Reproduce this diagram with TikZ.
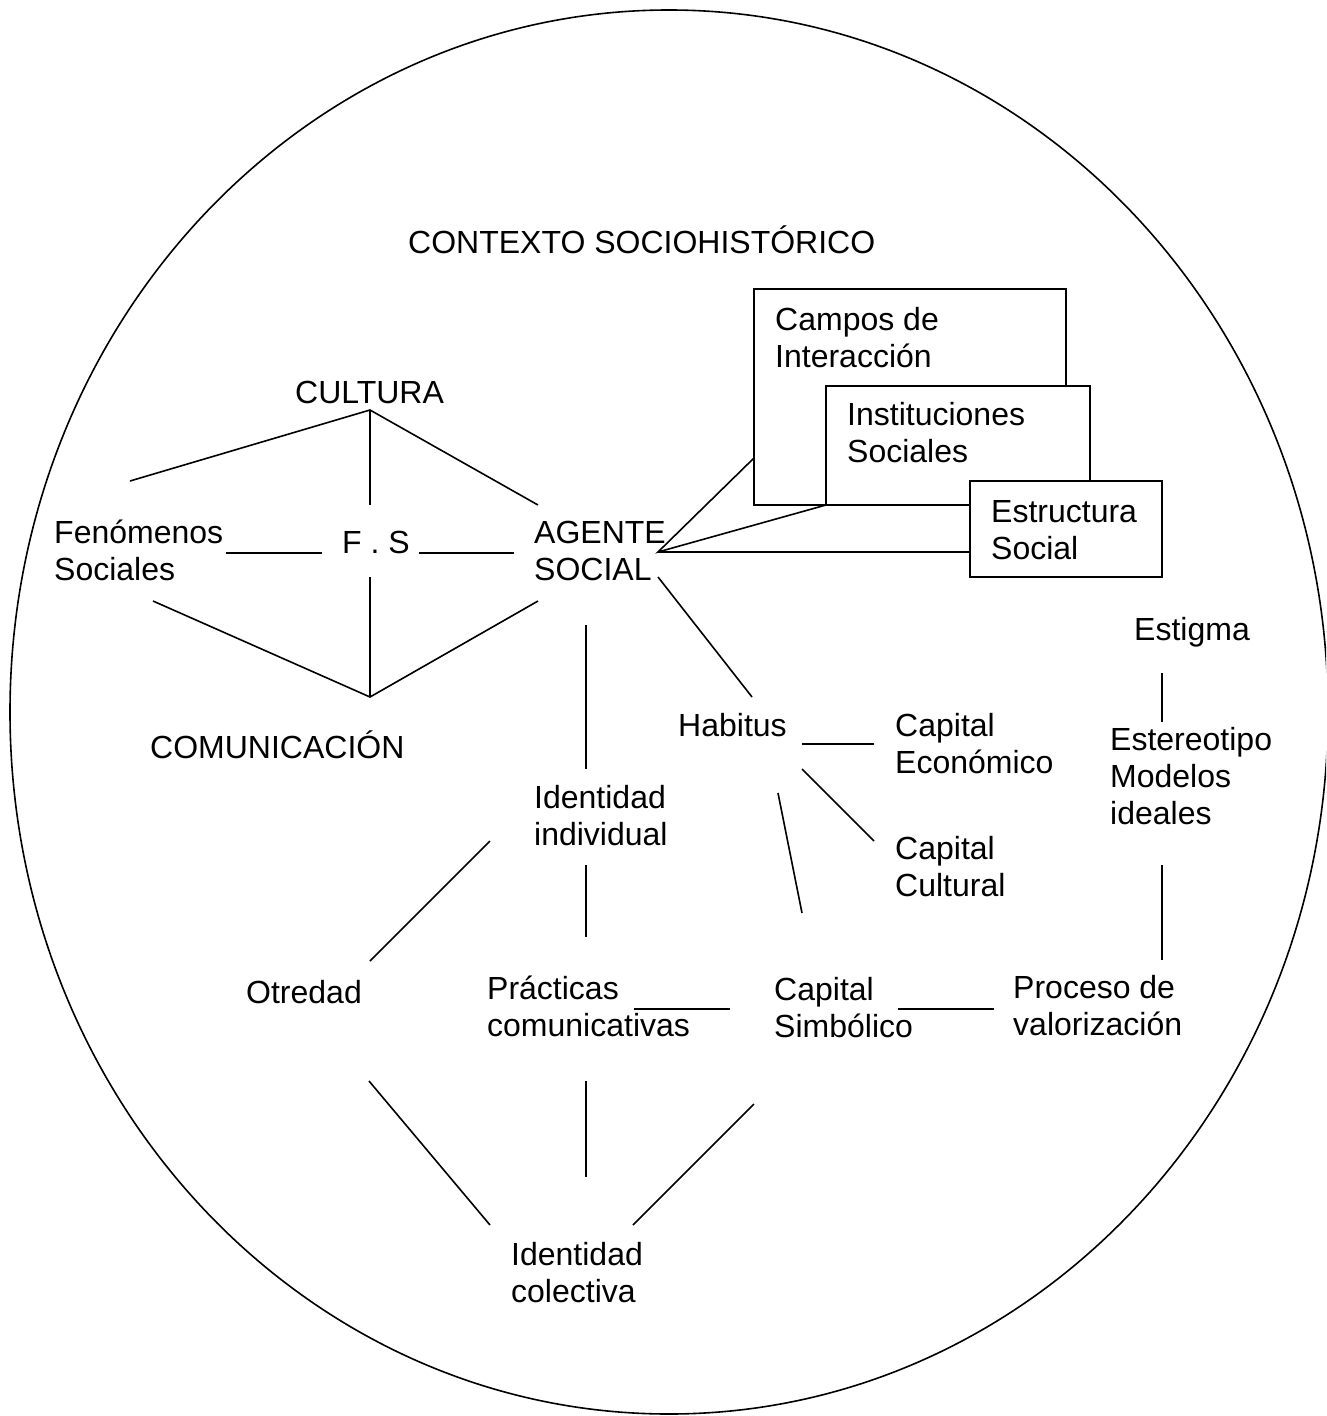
\documentclass[tikz,border=0pt]{standalone}
\usepackage{fontspec}
\setmainfont{Liberation Sans}
\begin{document}
\begin{tikzpicture}[x=1pt,y=-1pt,
    lbl/.style={anchor=base west, inner sep=0pt, align=left, font=\fontsize{32}{37}\selectfont},
    ln/.style={line width=1.6pt},
    bx/.style={draw, line width=1.6pt, fill=white}]
    \useasboundingbox (0,0) rectangle (1326,1416);
    \clip (0,0) rectangle (1326,1416);

    % Contexto
    \draw[ln] (669,712) ellipse [x radius=659pt, y radius=702pt];
    \node[lbl] (ctx) at (408,253) {CONTEXTO SOCIOHISTÓRICO};

    % F . S  (multi-line labels sit on their last baseline)
    \node[lbl] (cult) at (295,403) {CULTURA};
    \node[lbl] (fen) at (54,580) {Fenómenos\\Sociales};
    \node[lbl] (fs) at (342,553) {F . S};
    \node[lbl] (agente) at (534,580) {AGENTE\\SOCIAL};
    \node[lbl] (com) at (150,758) {COMUNICACIÓN};

    \coordinate (cu) at (370,410);
    \coordinate (cu-l) at (130,481);
    \coordinate (cu-b) at (370,505);
    \coordinate (cu-r) at (538,505);
    \draw[ln] (cu-l) -- (cu) -- (cu-r);
    \draw[ln] (cu) -- (cu-b);

    \coordinate (co) at (370,697);
    \coordinate (co-l) at (153,601);
    \coordinate (co-t) at (370,577);
    \coordinate (co-r) at (538,601);
    \draw[ln] (co-l) -- (co) -- (co-r);
    \draw[ln] (co) -- (co-t);

    \coordinate (fs-l1) at (226,553);
    \coordinate (fs-l2) at (322,553);
    \coordinate (fs-r1) at (419,553);
    \coordinate (fs-r2) at (514,553);
    \draw[ln] (fs-l1) -- (fs-l2);
    \draw[ln] (fs-r1) -- (fs-r2);

    % Campos, instituciones, estructura
    \coordinate (ag) at (658,552);
    \coordinate (ag-1) at (754,458);
    \coordinate (ag-2) at (826,505);
    \coordinate (ag-3) at (970,552);
    \draw[ln] (ag-1) -- (ag) -- (ag-2);
    \draw[ln] (ag) -- (ag-3);

    \draw[bx] (754,289) rectangle (1066,505);
    \node[lbl] (campos) at (775,367) {Campos de\\Interacción};
    \draw[bx] (826,386) rectangle (1090,505);
    \node[lbl] (inst) at (847,462) {Instituciones\\Sociales};
    \draw[bx] (970,481) rectangle (1162,577);
    \node[lbl] (estr) at (991,559) {Estructura\\Social};

    % Habitus y capitales
    \node[lbl] (habitus) at (678,736) {Habitus};
    \node[lbl] (capeco) at (895,773) {Capital\\Económico};
    \node[lbl] (capcul) at (895,896) {Capital\\Cultural};
    \node[lbl] (capsim) at (774,1037) {Capital\\Simbólico};

    \coordinate (ag-h1) at (658,577);
    \coordinate (ag-h2) at (752,697);
    \draw[ln] (ag-h1) -- (ag-h2);
    \coordinate (hb-e1) at (802,744);
    \coordinate (hb-e2) at (874,744);
    \draw[ln] (hb-e1) -- (hb-e2);
    \coordinate (hb-c1) at (802,769);
    \coordinate (hb-c2) at (874,841);
    \draw[ln] (hb-c1) -- (hb-c2);
    \coordinate (hb-s1) at (778,793);
    \coordinate (hb-s2) at (802,913);
    \draw[ln] (hb-s1) -- (hb-s2);

    % Identidad
    \node[lbl] (idind) at (534,845) {Identidad\\individual};
    \node[lbl] (otre) at (246,1003) {Otredad};
    \node[lbl] (pract) at (487,1036) {Prácticas\\comunicativas};
    \node[lbl] (idcol) at (511,1302) {Identidad\\colectiva};

    \coordinate (ag-i1) at (586,625);
    \coordinate (ag-i2) at (586,769);
    \draw[ln] (ag-i1) -- (ag-i2);
    \coordinate (ii-p1) at (586,865);
    \coordinate (ii-p2) at (586,937);
    \draw[ln] (ii-p1) -- (ii-p2);
    \coordinate (ii-o1) at (490,841);
    \coordinate (ii-o2) at (370,961);
    \draw[ln] (ii-o1) -- (ii-o2);
    \coordinate (pr-s1) at (634,1009);
    \coordinate (pr-s2) at (730,1009);
    \draw[ln] (pr-s1) -- (pr-s2);

    \coordinate (ot-c1) at (369,1081);
    \coordinate (ot-c2) at (490,1225);
    \draw[ln] (ot-c1) -- (ot-c2);
    \coordinate (pr-c1) at (586,1081);
    \coordinate (pr-c2) at (586,1177);
    \draw[ln] (pr-c1) -- (pr-c2);
    \coordinate (cs-c1) at (754,1104);
    \coordinate (cs-c2) at (633,1225);
    \draw[ln] (cs-c1) -- (cs-c2);

    % Estigma y valorizacion
    \node[lbl] (estig) at (1134,640) {Estigma};
    \node[lbl] (estereo) at (1110,824) {Estereotipo\\Modelos\\ideales};
    \node[lbl] (proc) at (1013,1035) {Proceso de\\valorización};

    \coordinate (es-e1) at (1162,673);
    \coordinate (es-e2) at (1162,722);
    \draw[ln] (es-e1) -- (es-e2);
    \coordinate (es-p1) at (1162,865);
    \coordinate (es-p2) at (1162,960);
    \draw[ln] (es-p1) -- (es-p2);
    \coordinate (cs-p1) at (898,1009);
    \coordinate (cs-p2) at (994,1009);
    \draw[ln] (cs-p1) -- (cs-p2);
\end{tikzpicture}
\end{document}
